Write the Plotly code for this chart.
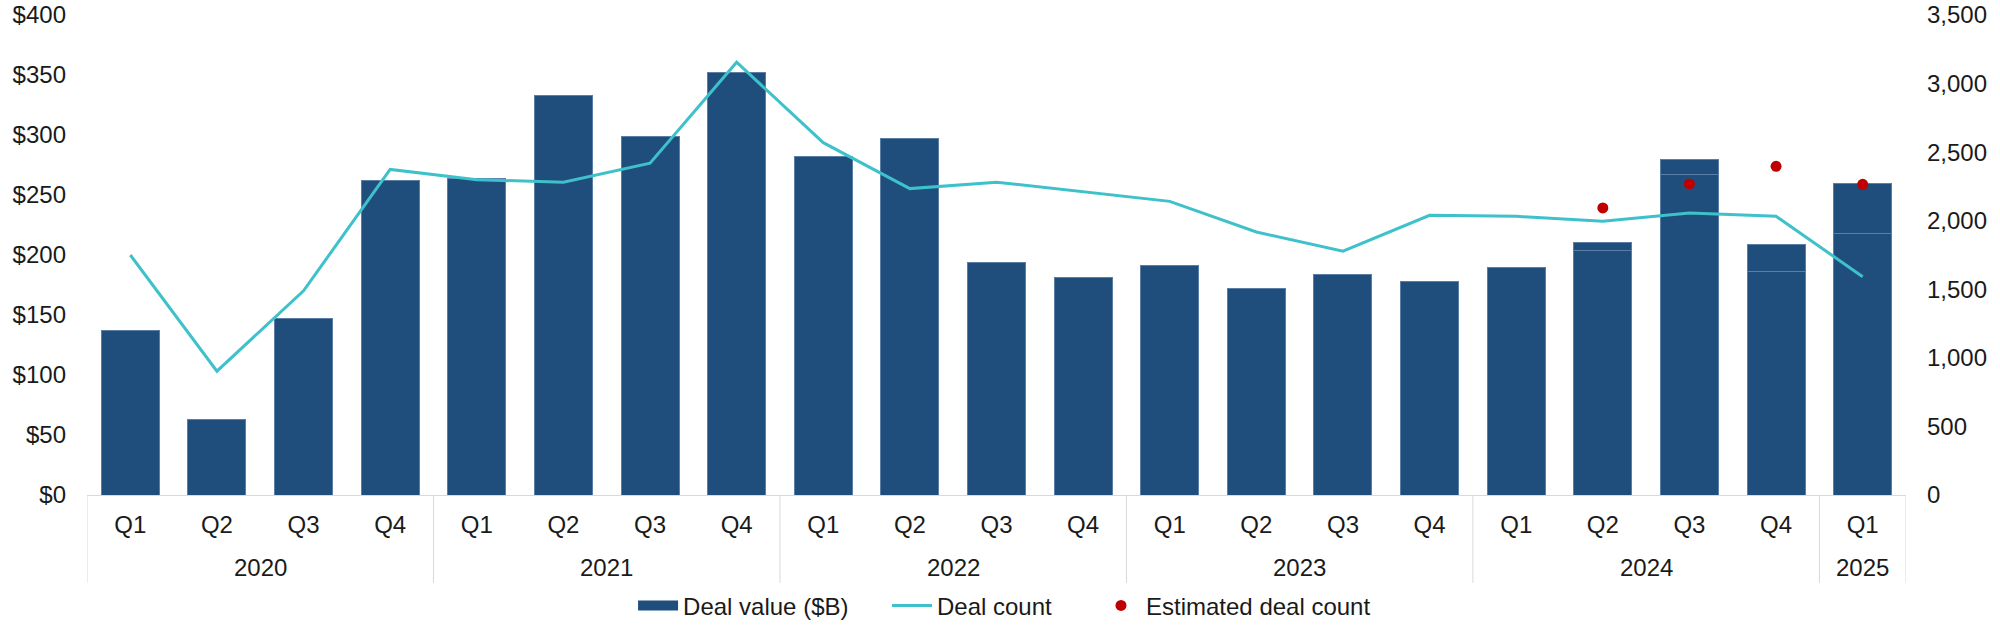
import plotly.graph_objects as go

years = ["2020"] * 4 + ["2021"] * 4 + ["2022"] * 4 + ["2023"] * 4 + ["2024"] * 4 + ["2025"]
quarters = ["Q1", "Q2", "Q3", "Q4"] * 5 + ["Q1"]

# Deal value ($B): base segment and later-added segment (stacked)
deal_value_base = [137, 63, 147, 262, 264, 333, 299, 352, 282, 297, 194, 181,
                   191, 172, 184, 178, 190, 204, 267, 186, 218]
deal_value_added = [None] * 17 + [6.5, 12.7, 22.5, 42]

deal_count = [1750, 903, 1489, 2374, 2299, 2281, 2420, 3156, 2569, 2234, 2281, 2210,
              2141, 1918, 1778, 2039, 2032, 1996, 2056, 2032, 1592]
est_deal_count = [None] * 17 + [2093, 2268, 2397, 2265]

BAR = "#1F4E7D"
EDGE = "#5a7ea6"
TEAL = "#3EC1CA"
RED = "#C00000"
GRID = "#d9d9d9"
FONT = "Liberation Sans, Arial, sans-serif"
FS = 24

cats = [f"{y} {q}" for y, q in zip(years, quarters)]

fig = go.Figure()
fig.add_trace(go.Bar(x=cats, y=deal_value_base, name="Deal value ($B)", showlegend=False,
                     marker=dict(color=BAR, line=dict(color=EDGE, width=1)), yaxis="y"))
fig.add_trace(go.Bar(x=cats, y=deal_value_added, name="Deal value ($B)", showlegend=False,
                     marker=dict(color=BAR, line=dict(color=EDGE, width=1)), yaxis="y"))
# legend entry for bars (wide rectangle swatch)
fig.add_trace(go.Scatter(x=[None], y=[None], name="Deal value ($B)", mode="lines",
                         line=dict(color=BAR, width=13), yaxis="y", legend="legend"))
fig.add_trace(go.Scatter(x=cats, y=deal_count, name="Deal count", mode="lines",
                         line=dict(color=TEAL, width=3), yaxis="y2", legend="legend2"))
fig.add_trace(go.Scatter(x=cats, y=est_deal_count, name="Estimated deal count", mode="markers",
                         marker=dict(color=RED, size=11), yaxis="y2", legend="legend3"))

# year group labels and dividers
shapes = []
annotations = []
groups = []
for i, y in enumerate(years):
    if not groups or groups[-1][0] != y:
        groups.append([y, i, i])
    else:
        groups[-1][2] = i
for y, s, e in groups:
    annotations.append(dict(x=(s + e) / 2, y=-0.152, xref="x", yref="paper", text=y,
                            showarrow=False, yanchor="middle",
                            font=dict(size=FS, family=FONT, color="#1a1a1a")))
    shapes.append(dict(type="line", xref="x", yref="paper", x0=s - 0.5, x1=s - 0.5,
                       y0=0, y1=-0.183, line=dict(color=GRID, width=1)))
shapes.append(dict(type="line", xref="x", yref="paper", x0=len(years) - 0.5,
                   x1=len(years) - 0.5, y0=0, y1=-0.183, line=dict(color=GRID, width=1)))

leg_common = dict(orientation="h", y=-0.231, yanchor="middle", xanchor="left", itemwidth=40,
                  font=dict(size=FS, family=FONT, color="#1a1a1a"), bgcolor="rgba(0,0,0,0)")

fig.update_layout(
    width=2000, height=627,
    margin=dict(l=87, r=94, t=15, b=132, autoexpand=False),
    paper_bgcolor="white", plot_bgcolor="white",
    barmode="stack", bargap=0.33,
    font=dict(family=FONT, size=FS, color="#1a1a1a"),
    showlegend=True,
    legend=dict(x=0.3002, **leg_common),
    legend2=dict(x=0.4398, **leg_common),
    legend3=dict(x=0.5547, **leg_common),
    shapes=shapes, annotations=annotations,
    xaxis=dict(type="category", range=[-0.5, len(cats) - 0.5], tickvals=cats, ticktext=quarters,
               showline=True, linecolor=GRID, linewidth=1, ticks="", showgrid=False,
               tickfont=dict(size=FS), ticklabelstandoff=8, automargin=False),
    yaxis=dict(range=[0, 400], dtick=50, tickprefix="$", showgrid=False, zeroline=False,
               showline=False, ticks="", tickfont=dict(size=FS), ticklabelstandoff=20,
               automargin=False),
    yaxis2=dict(range=[0, 3500], dtick=500, tickformat=",", overlaying="y", side="right",
                showgrid=False, zeroline=False, showline=False, ticks="",
                tickfont=dict(size=FS), ticklabelstandoff=20, automargin=False),
)

fig.write_html("out.html", config={"displayModeBar": False},
               post_script="document.body.style.margin='0';document.body.style.overflow='hidden';")
